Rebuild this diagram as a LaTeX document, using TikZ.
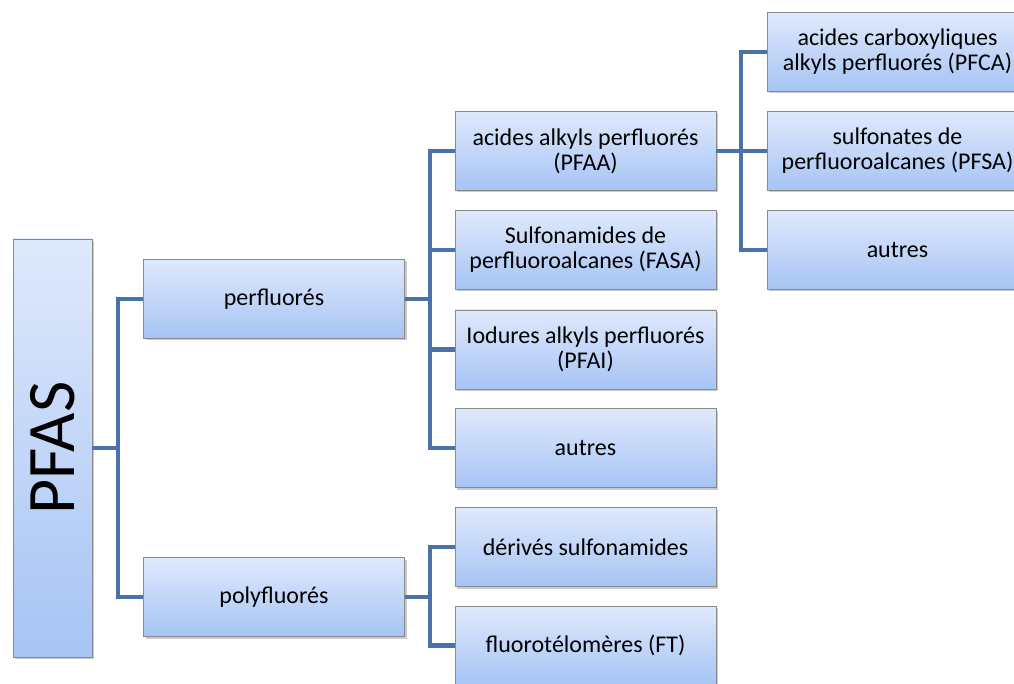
\documentclass[tikz,border=0pt]{standalone}
\usepackage{fontspec}
\setmainfont{Carlito}
\usetikzlibrary{shadows}
\definecolor{linec}{HTML}{4A72A6}
\definecolor{topc}{HTML}{DFE9FC}
\definecolor{botc}{HTML}{A6C4F4}
\definecolor{bordc}{HTML}{8A8A8A}
\tikzset{
  box/.style={draw=bordc, line width=0.9pt, top color=topc, bottom color=botc,
    minimum width=261pt, minimum height=79pt, align=center, inner sep=2pt,
    font=\fontsize{24}{25}\selectfont,
    drop shadow={shadow xshift=2pt, shadow yshift=-2pt, opacity=0.35, fill=black!60}},
  conn/.style={linec, line width=4.5pt, line join=miter}
}
\begin{document}
\begin{tikzpicture}[x=1pt,y=-1pt]
\useasboundingbox (0,0) rectangle (1014,684);
\begin{scope}
\clip (0,0) rectangle (1014,684);
% PFAS
\node[box, minimum width=418pt, minimum height=79pt, rotate=90, font=\fontsize{68}{70}\selectfont] (pfas) at (52.5,448) {PFAS};
% level 2
\node[box] (perf) at (274,299) {perfluorés};
\node[box] (poly) at (274,597) {polyfluorés};
% level 3
\node[box] (pfaa) at (585.5,151) {acides alkyls perfluorés\\(PFAA)};
\node[box] (fasa) at (585.5,250) {Sulfonamides de\\perfluoroalcanes (FASA)};
\node[box] (pfai) at (585.5,349.5) {Iodures alkyls perfluorés\\(PFAI)};
\node[box] (aut1) at (585.5,448) {autres};
\node[box] (deri) at (585.5,547) {dérivés sulfonamides};
\node[box] (ft) at (585.5,645.5) {fluorotélomères (FT)};
% level 4
\node[box] (pfca) at (897.5,52) {acides carboxyliques\\alkyls perfluorés (PFCA)};
\node[box] (pfsa) at (897.5,151) {sulfonates de\\perfluoroalcanes (PFSA)};
\node[box] (aut2) at (897.5,250) {autres};
\end{scope}
% connectors
\draw[conn] (pfas.south) -- (118,448) coordinate (j1);
\draw[conn] (perf.west) -| (j1) |- (poly.west);
\draw[conn] (perf.east) -- (430,299) coordinate (j2);
\draw[conn] (pfaa.west) -| (j2) |- (aut1.west);
\draw[conn] (fasa.west) -- (fasa.west -| j2);
\draw[conn] (pfai.west) -- (pfai.west -| j2);
\draw[conn] (poly.east) -- (430,597) coordinate (j3);
\draw[conn] (deri.west) -| (j3) |- (ft.west);
\draw[conn] (pfaa.east) -- (741,151) coordinate (j4);
\draw[conn] (pfca.west) -| (j4) |- (aut2.west);
\draw[conn] (pfsa.west) -- (j4);
\end{tikzpicture}
\end{document}
